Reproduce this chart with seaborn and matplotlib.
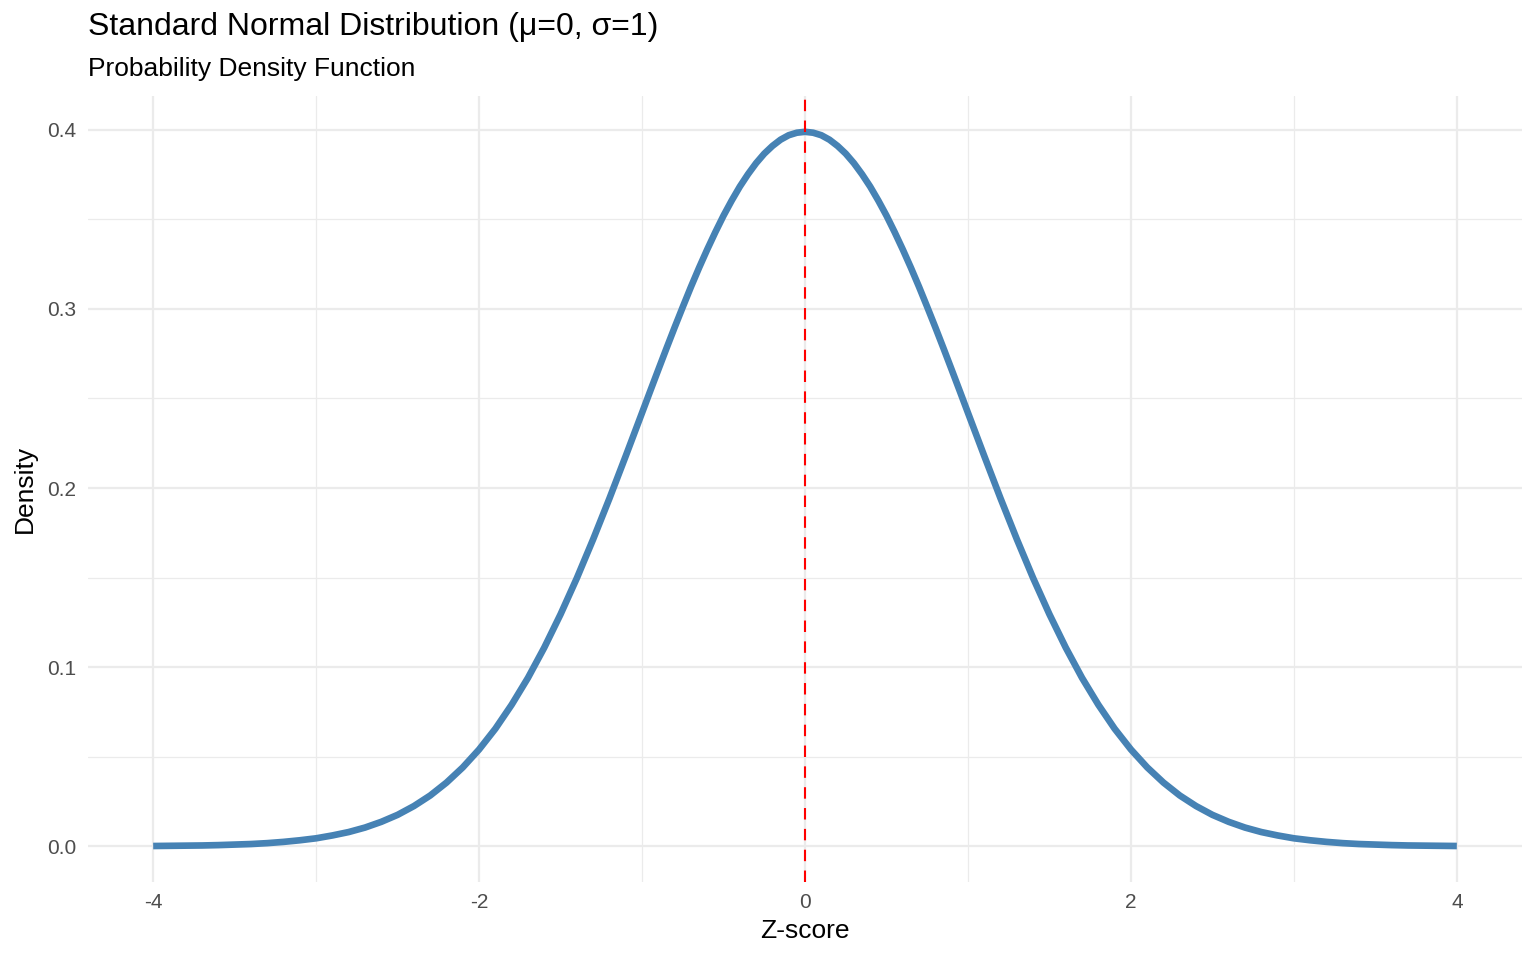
import pandas as pd
import numpy as np
import matplotlib
matplotlib.use('Agg')
import matplotlib.pyplot as plt
import seaborn as sns

# Courbe (pas de 0.1, 0.05 autour du sommet)
z_score = [-4.0, -3.9, -3.8, -3.7, -3.6, -3.5, -3.4, -3.3, -3.2, -3.1,
           -3.0, -2.9, -2.8, -2.7, -2.6, -2.5, -2.4, -2.3, -2.2, -2.1,
           -2.0, -1.9, -1.8, -1.7, -1.6, -1.5, -1.4, -1.3, -1.2, -1.1,
           -1.0, -0.95, -0.9, -0.85, -0.8, -0.75, -0.7, -0.65, -0.6, -0.55,
           -0.5, -0.45, -0.4, -0.35, -0.3, -0.25, -0.2, -0.15, -0.1, -0.05,
           0.0, 0.05, 0.1, 0.15, 0.2, 0.25, 0.3, 0.35, 0.4, 0.45,
           0.5, 0.55, 0.6, 0.65, 0.7, 0.75, 0.8, 0.85, 0.9, 0.95,
           1.0, 1.1, 1.2, 1.3, 1.4, 1.5, 1.6, 1.7, 1.8, 1.9,
           2.0, 2.1, 2.2, 2.3, 2.4, 2.5, 2.6, 2.7, 2.8, 2.9,
           3.0, 3.1, 3.2, 3.3, 3.4, 3.5, 3.6, 3.7, 3.8, 3.9, 4.0]
density = [0.0001, 0.0002, 0.0003, 0.0004, 0.0006, 0.0009, 0.0012, 0.0017, 0.0024, 0.0033,
           0.0044, 0.0060, 0.0079, 0.0104, 0.0136, 0.0175, 0.0224, 0.0283, 0.0355, 0.0440,
           0.0540, 0.0656, 0.0790, 0.0940, 0.1109, 0.1295, 0.1497, 0.1714, 0.1942, 0.2179,
           0.2420, 0.2541, 0.2661, 0.2780, 0.2897, 0.3011, 0.3123, 0.3230, 0.3332, 0.3429,
           0.3521, 0.3605, 0.3683, 0.3752, 0.3814, 0.3867, 0.3910, 0.3945, 0.3970, 0.3984,
           0.3989, 0.3984, 0.3970, 0.3945, 0.3910, 0.3867, 0.3814, 0.3752, 0.3683, 0.3605,
           0.3521, 0.3429, 0.3332, 0.3230, 0.3123, 0.3011, 0.2897, 0.2780, 0.2661, 0.2541,
           0.2420, 0.2179, 0.1942, 0.1714, 0.1497, 0.1295, 0.1109, 0.0940, 0.0790, 0.0656,
           0.0540, 0.0440, 0.0355, 0.0283, 0.0224, 0.0175, 0.0136, 0.0104, 0.0079, 0.0060,
           0.0044, 0.0033, 0.0024, 0.0017, 0.0012, 0.0009, 0.0006, 0.0004, 0.0003, 0.0002, 0.0001]
mean_z = 0

x_ticks = [-4, -2, 0, 2, 4]
x_minor = [-3, -1, 1, 3]
y_ticks = [0.0, 0.1, 0.2, 0.3, 0.4]
y_minor = [0.05, 0.15, 0.25, 0.35]

df = pd.DataFrame({'z': z_score, 'density': density})

sns.set_style('white')
plt.rcParams['font.family'] = ['Liberation Sans', 'DejaVu Sans']
plt.rcParams['axes.unicode_minus'] = False
plt.rcParams['text.color'] = 'black'
plt.rcParams['axes.labelcolor'] = 'black'

fig = plt.figure(figsize=(15.36, 9.6), dpi=100)
ax = fig.add_axes([88/1536, 1 - 882/960, (1522 - 88)/1536, (882 - 96)/960])

# grille façon theme_minimal
for v in x_ticks:
    ax.axvline(v, color='#EBEBEB', lw=1.6, zorder=0)
for v in x_minor:
    ax.axvline(v, color='#EBEBEB', lw=0.9, zorder=0)
for v in y_ticks:
    ax.axhline(v, color='#EBEBEB', lw=1.6, zorder=0)
for v in y_minor:
    ax.axhline(v, color='#EBEBEB', lw=0.9, zorder=0)

sns.lineplot(data=df, x='z', y='density', color='steelblue', lw=4.8, ax=ax,
             solid_capstyle='butt', solid_joinstyle='round', zorder=2)
ax.axvline(mean_z, color='red', lw=1.5, dashes=(5.5, 4.5), zorder=3)

ax.set_xlim(-4.4, 4.4)
ax.set_ylim(-0.02, 0.4189)
ax.set_xticks(x_ticks)
ax.set_xticklabels([str(v) for v in x_ticks])
ax.set_yticks(y_ticks)
ax.set_yticklabels([f'{v:.1f}' for v in y_ticks])
ax.tick_params(length=0, labelsize=15, labelcolor='#4D4D4D')
ax.tick_params(axis='x', pad=8)
ax.tick_params(axis='y', pad=8.5)
for s in ax.spines.values():
    s.set_visible(False)

ax.set_xlabel('Z-score', fontsize=19, labelpad=5, color='black')
ax.set_ylabel('Density', fontsize=19, labelpad=7, color='black')

fig.text(88/1536, 1 - 35/960, 'Standard Normal Distribution (μ=0, σ=1)',
         fontsize=23, va='baseline', ha='left', color='black')
fig.text(88/1536, 1 - 76/960, 'Probability Density Function',
         fontsize=19, va='baseline', ha='left', color='black')

plt.savefig('out.png', dpi=100)
